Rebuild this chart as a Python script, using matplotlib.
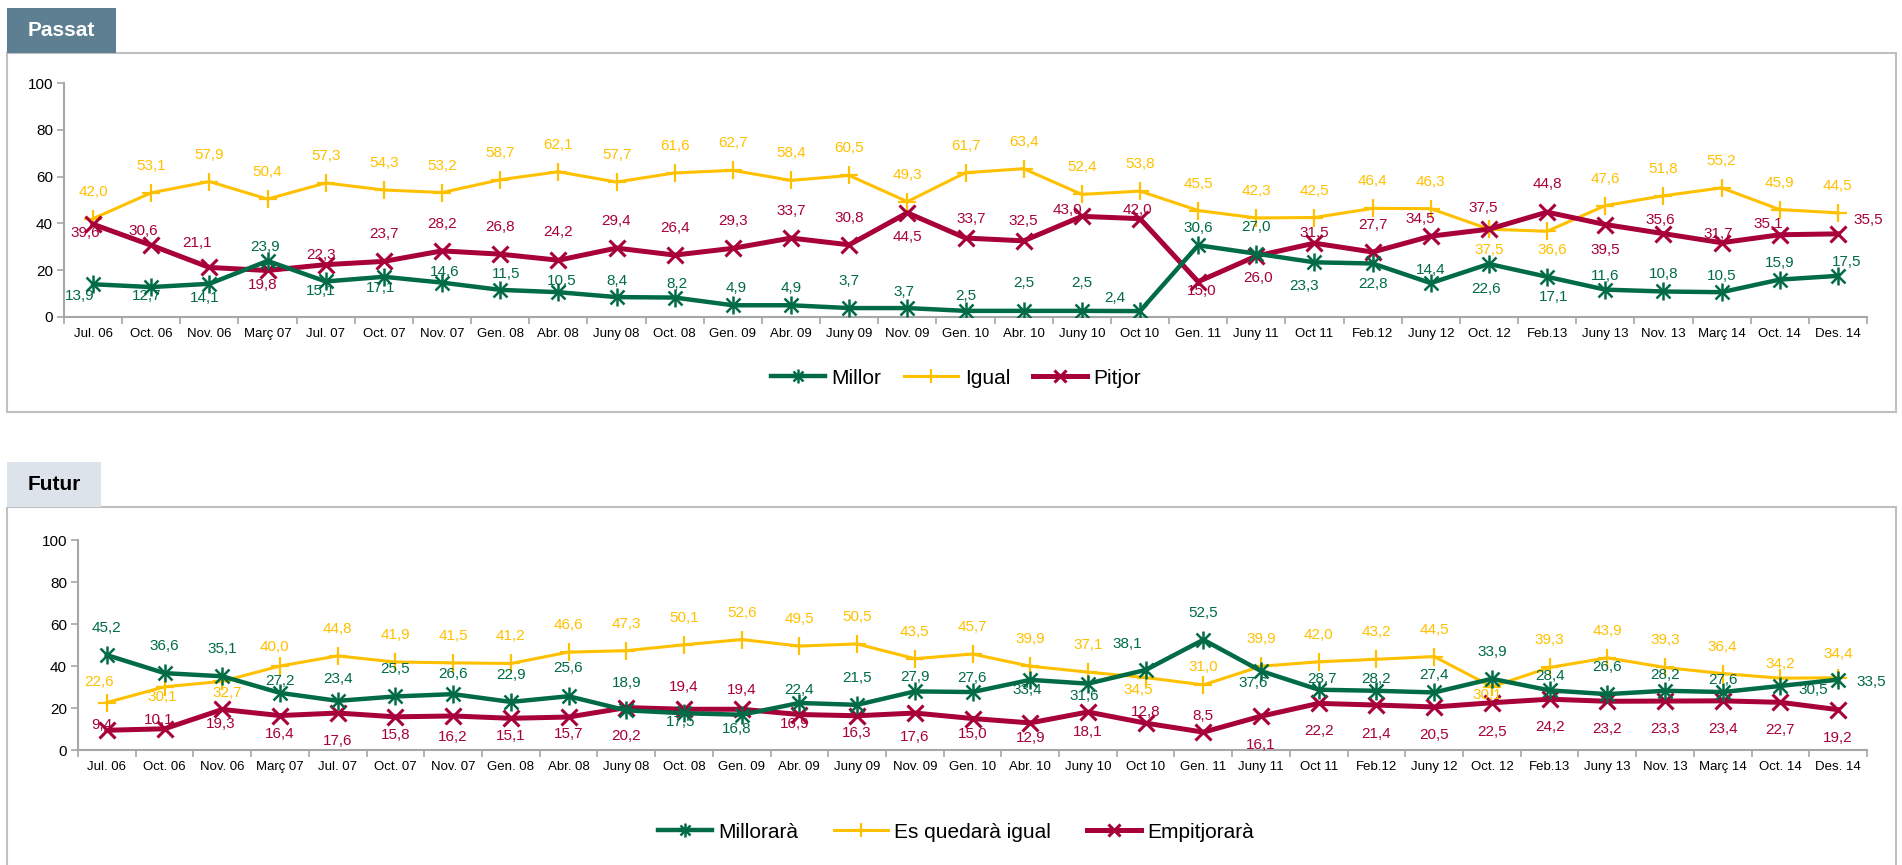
import matplotlib.pyplot as plt
import numpy as np
from matplotlib.patches import Rectangle
from matplotlib.legend_handler import HandlerTuple

plt.rcParams['font.family'] = ['Liberation Sans', 'DejaVu Sans']

periodes = ['Jul. 06', 'Oct. 06', 'Nov. 06', 'Març 07', 'Jul. 07', 'Oct. 07', 'Nov. 07',
            'Gen. 08', 'Abr. 08', 'Juny 08', 'Oct. 08', 'Gen. 09', 'Abr. 09', 'Juny 09',
            'Nov. 09', 'Gen. 10', 'Abr. 10', 'Juny 10', 'Oct 10', 'Gen. 11', 'Juny 11',
            'Oct 11', 'Feb.12', 'Juny 12', 'Oct. 12', 'Feb.13', 'Juny 13', 'Nov. 13',
            'Març 14', 'Oct. 14', 'Des. 14']

# Passat
millor = [13.9, 12.7, 14.1, 23.9, 15.1, 17.1, 14.6, 11.5, 10.5, 8.4, 8.2, 4.9, 4.9, 3.7, 3.7,
          2.5, 2.5, 2.5, 2.4, 30.6, 27.0, 23.3, 22.8, 14.4, 22.6, 17.1, 11.6, 10.8, 10.5, 15.9, 17.5]
igual = [42.0, 53.1, 57.9, 50.4, 57.3, 54.3, 53.2, 58.7, 62.1, 57.7, 61.6, 62.7, 58.4, 60.5, 49.3,
         61.7, 63.4, 52.4, 53.8, 45.5, 42.3, 42.5, 46.4, 46.3, 37.5, 36.6, 47.6, 51.8, 55.2, 45.9, 44.5]
pitjor = [39.6, 30.6, 21.1, 19.8, 22.3, 23.7, 28.2, 26.8, 24.2, 29.4, 26.4, 29.3, 33.7, 30.8, 44.5,
          33.7, 32.5, 43.0, 42.0, 15.0, 26.0, 31.5, 27.7, 34.5, 37.5, 44.8, 39.5, 35.6, 31.7, 35.1, 35.5]

# Futur
millorara = [45.2, 36.6, 35.1, 27.2, 23.4, 25.5, 26.6, 22.9, 25.6, 18.9, 17.5, 16.8, 22.4, 21.5, 27.9,
             27.6, 33.4, 31.6, 38.1, 52.5, 37.6, 28.7, 28.2, 27.4, 33.9, 28.4, 26.6, 28.2, 27.6, 30.5, 33.5]
quedara = [22.6, 30.1, 32.7, 40.0, 44.8, 41.9, 41.5, 41.2, 46.6, 47.3, 50.1, 52.6, 49.5, 50.5, 43.5,
           45.7, 39.9, 37.1, 34.5, 31.0, 39.9, 42.0, 43.2, 44.5, 30.1, 39.3, 43.9, 39.3, 36.4, 34.2, 34.4]
empitjorara = [9.4, 10.1, 19.3, 16.4, 17.6, 15.8, 16.2, 15.1, 15.7, 20.2, 19.4, 19.4, 16.9, 16.3, 17.6,
               15.0, 12.9, 18.1, 12.8, 8.5, 16.1, 22.2, 21.4, 20.5, 22.5, 24.2, 23.2, 23.3, 23.4, 22.7, 19.2]

# label placement (pixels from marker, y down)
g1_dx = [-13, -5, -5, -3, -5, -3, 3, 6, 3, 0, 2, 3, 0, 0, -3, 0, 0, 0, -25, 0,
         0, -10, 0, 0, -3, 7, 0, 0, 0, 0, 9]
g1_dy = [12, 9, 14, -14, 10, 11, -11, -16, -11, -16, -14, -17, -17, -27, -16, -15, -28, -28, -13, -17,
         -27, 24, 21, -13, 25, 20, -14, -17, -16, -17, -14]
y1_dx = [0] * 25 + [5] + [0] * 5
y1_dy = [-27] * 24 + [21, 19] + [-27] * 5
r1_dx = [-8, -8, -12, -5, -5, 0, 0, 0, 0, 0, 0, 0, 0, 0, 0, 6, 0, -14, -3, 4,
         2, 0, 0, -11, -6, 0, 0, -3, -3, -11, 30]
r1_dy = [9, -14, -24, 15, -10, -27, -27, -27, -28, -27, -27, -27, -27, -27, 24, -19, -20, -6, -9, 9,
         22, -10, -27, -17, -21, -28, 25, -14, -9, -11, -14]

g2_dx = [0] * 10 + [-3, -5, 0, 0, 0, 0, -3, -4, -18, 0, -8, 3, 0, 0, 0, 0, 0, 0, 0, 33, 33]
g2_dy = [-27, -27, -27, -12, -22, -27, -20, -27, -28, -27, 9, 14, -13, -27, -14, -14, 10, 12, -26, -27,
         12, -11, -12, -17, -27, -14, -27, -16, -12, 4, 2]
y2_dx = [-8, -2, 5, -6] + [0] * 14 + [-7] + [0] * 5 + [-5] + [0] * 6
y2_dy = [-21, 10, 12, -19] + [-27] * 14 + [12, -18] + [-27] * 4 + [8] + [-27] * 4 + [-14, -24]
r2_dx = [-5, -6, -2] + [0] * 9 + [-5] + [0] * 18
r2_dy = [-5, -9, 15, 18, 28, 18, 21, 18, 17, 28, -22, -19, 9, 17, 24, 15, 15, 20, -11, -16,
         29, 28, 29, 28, 29, 28, 28, 28, 28, 28, 28]

verd = '#006B45'
groc = '#FFC000'
granat = '#A8003B'
gris = '#A6A6A6'

W, H = 1902, 865
fig = plt.figure(figsize=(W / 100, H / 100), dpi=100)

# frames and tabs
bg = fig.add_axes([0, 0, 1, 1], zorder=-1)
bg.set_xlim(0, W)
bg.set_ylim(H, 0)
bg.axis('off')
bg.add_patch(Rectangle((7, 53), 1889, 359, fill=False, ec='#C0C0C0', lw=1.5))
bg.add_patch(Rectangle((7, 507), 1889, 420, fill=False, ec='#C0C0C0', lw=1.5))
bg.add_patch(Rectangle((7, 8), 109, 45, fc='#5E7E91', ec='none'))
bg.add_patch(Rectangle((7, 462), 94, 45, fc='#DCE3EA', ec='none'))
bg.text(61.5, 31, 'Passat', color='white', fontsize=15, fontweight='bold', ha='center', va='center')
bg.text(54, 485, 'Futur', color='black', fontsize=15, fontweight='bold', ha='center', va='center')

x = np.arange(len(periodes))


def fmt(v):
    return ('%.1f' % v).replace('.', ',')


def draw(ax, serie, color, lw, dx, dy, kind):
    if kind == 'star':
        l1, = ax.plot(x, serie, color=color, lw=lw, marker='x', ms=10, mew=1.8, zorder=3)
        l2, = ax.plot(x, serie, ls='none', color=color, marker='|', ms=13, mew=1.8, zorder=3)
        h = (l1, l2)
    elif kind == 'plus':
        h, = ax.plot(x, serie, color=color, lw=lw, marker='+', ms=13, mew=1.6, zorder=2)
    else:
        h, = ax.plot(x, serie, color=color, lw=lw, marker='x', ms=11, mew=2.2, zorder=3)
    for i, v in enumerate(serie):
        ax.annotate(fmt(v), (i, v), xytext=(dx[i], -dy[i]), textcoords='offset pixels',
                    ha='center', va='center', color=color, fontsize=11, zorder=5)
    return h


def style(ax):
    ax.set_xlim(-0.5, len(periodes) - 0.5)
    ax.set_ylim(0, 100)
    ax.set_yticks([0, 20, 40, 60, 80, 100])
    ax.set_xticks(np.arange(len(periodes) + 1) - 0.5)
    ax.set_xticklabels([])
    ax.set_xticks(x, minor=True)
    ax.set_xticklabels(periodes, minor=True, fontsize=9.5)
    ax.tick_params(axis='x', which='major', direction='out', length=5, color=gris, width=1.2)
    ax.tick_params(axis='x', which='minor', length=0, pad=8)
    ax.tick_params(axis='y', direction='out', length=5, color=gris, width=1.2, labelsize=11, pad=3)
    for s in ['top', 'right']:
        ax.spines[s].set_visible(False)
    for s in ['left', 'bottom']:
        ax.spines[s].set_color(gris)
        ax.spines[s].set_linewidth(1.5)
    ax.patch.set_alpha(0)


ax1 = fig.add_axes([64 / W, 1 - 316.7 / H, (1867 - 64) / W, (316.7 - 83.3) / H])
h1 = draw(ax1, igual, groc, 2.2, y1_dx, y1_dy, 'plus')
h2 = draw(ax1, pitjor, granat, 3.6, r1_dx, r1_dy, 'x')
h3 = draw(ax1, millor, verd, 3.2, g1_dx, g1_dy, 'star')
style(ax1)
fig.legend([h3, h1, h2], ['Millor', 'Igual', 'Pitjor'], loc='center',
           bbox_to_anchor=(956 / W, 1 - 378 / H), ncol=3, frameon=False, fontsize=15,
           handlelength=2.6, handletextpad=0.3, columnspacing=1.1, markerscale=0.75,
           handler_map={tuple: HandlerTuple(ndivide=1)})

ax2 = fig.add_axes([78 / W, 1 - 750 / H, (1867 - 78) / W, 210 / H])
k1 = draw(ax2, quedara, groc, 2.2, y2_dx, y2_dy, 'plus')
k2 = draw(ax2, empitjorara, granat, 3.6, r2_dx, r2_dy, 'x')
k3 = draw(ax2, millorara, verd, 3.2, g2_dx, g2_dy, 'star')
style(ax2)
fig.legend([k3, k1, k2], ['Millorarà', 'Es quedarà igual', 'Empitjorarà'], loc='center',
           bbox_to_anchor=(956 / W, 1 - 832 / H), ncol=3, frameon=False, fontsize=15,
           handlelength=2.6, handletextpad=0.3, columnspacing=1.7, markerscale=0.75,
           handler_map={tuple: HandlerTuple(ndivide=1)})

fig.savefig('out.png', dpi=100)
